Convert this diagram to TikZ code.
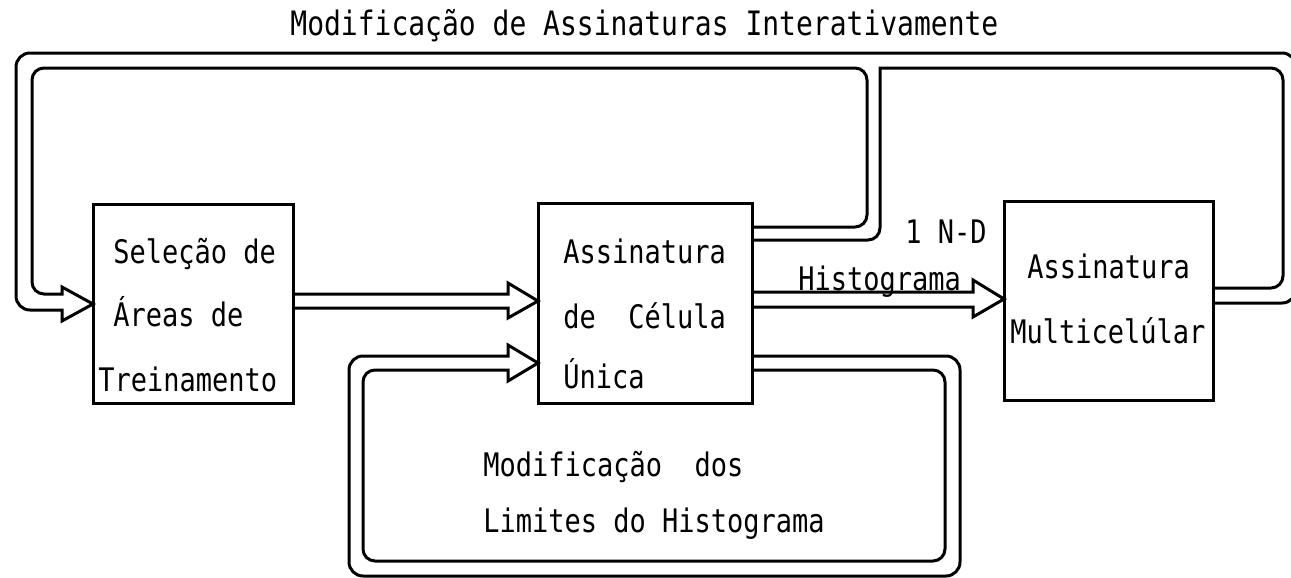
\documentclass[tikz,border=0pt]{standalone}
\usepackage{fontspec}
\usepackage{graphicx}
\newfontfamily\monofam{DejaVu Sans Mono}
\newcommand{\tx}[1]{\scalebox{1}[1.2]{#1}}
\begin{document}
\begin{tikzpicture}[x=0.5pt,y=-0.5pt,
  band/.style={line width=1.5pt, line join=miter},
  box/.style={draw, line width=1.5pt, inner sep=0pt, outer sep=0pt},
  lbl/.style={font=\monofam\fontsize{13.5}{16}\selectfont, inner sep=0pt, anchor=base west},
  ttl/.style={font=\monofam\fontsize{14}{16}\selectfont, inner sep=0pt, anchor=base west},
]
\useasboundingbox (0,0) rectangle (1291,578);

% boxes
\node[box, minimum width=100pt, minimum height=99.5pt] (A) at (193,303.5) {};
\node[box, minimum width=107pt, minimum height=100pt] (B) at (645,303) {};
\node[box, minimum width=104.5pt, minimum height=99.5pt] (C) at (1108.5,300.5) {};

% box texts
\node[lbl] (a1) at (113,263) {\tx{Seleção de}};
\node[lbl] (a2) at (113,326) {\tx{Áreas de}};
\node[lbl] (a3) at (98,391) {\tx{Treinamento}};
\node[lbl] (b1) at (563,263) {\tx{Assinatura}};
\node[lbl] (b2) at (563,328) {\tx{de\ \ Célula}};
\node[lbl] (b3) at (563,388) {\tx{Única}};
\node[lbl] (c1) at (1027,278) {\tx{Assinatura}};
\node[lbl] (c2) at (1010,343) {\tx{Multicelúlar}};

% other texts
\node[ttl] (title) at (290,35) {\tx{Modificação de Assinaturas Interativamente}};
\node[lbl] (nd) at (905,243) {\tx{1 N-D}};
\node[lbl] (hist) at (798,290) {\tx{Histograma}};
\node[lbl] (m1) at (483,476) {\tx{Modificação\ \ dos}};
\node[lbl] (m2) at (483,532) {\tx{Limites do Histograma}};

% A -> B
\draw[band] (A.east |- 0,294) -- (508,294) -- (508,283) -- (B.west |- 0,301)
  -- (508,318) -- (508,308) -- (A.east |- 0,308);

% B -> C (Histograma)
\draw[band] (B.east |- 0,292) -- (973,292) -- (973,280) -- (C.west |- 0,299)
  -- (973,317) -- (973,307) -- (B.east |- 0,307);

% bottom loop B -> B
\draw[band] (B.east |- 0,356) [rounded corners=7pt] -- (960,356) -- (960,576)
  -- (349,576) -- (349,356) [sharp corners] -- (508,356) -- (508,345)
  -- (B.west |- 0,363) -- (508,381) -- (508,370)
  [rounded corners=6pt] -- (363,370) -- (363,561) -- (945,561) -- (945,370)
  -- (B.east |- 0,370);

% top loops into A (from B and from C)
\draw[band] (B.east |- 0,227) [rounded corners=6pt] -- (867,227) -- (867,68)
  -- (32,68) -- (32,294) [sharp corners] -- (62,294) -- (62,287)
  -- (A.west |- 0,304) -- (62,321) -- (62,310)
  [rounded corners=7pt] -- (16,310) -- (16,53) -- (1296,53) -- (1296,303)
  -- (C.east |- 0,303);

% band from B joining the loop from C
\draw[band] (B.east |- 0,240) [rounded corners=6pt] -- (880,240)
  [sharp corners] -- (880,68) [rounded corners=6pt] -- (1283,68) -- (1283,288)
  -- (C.east |- 0,288);
\end{tikzpicture}
\end{document}
